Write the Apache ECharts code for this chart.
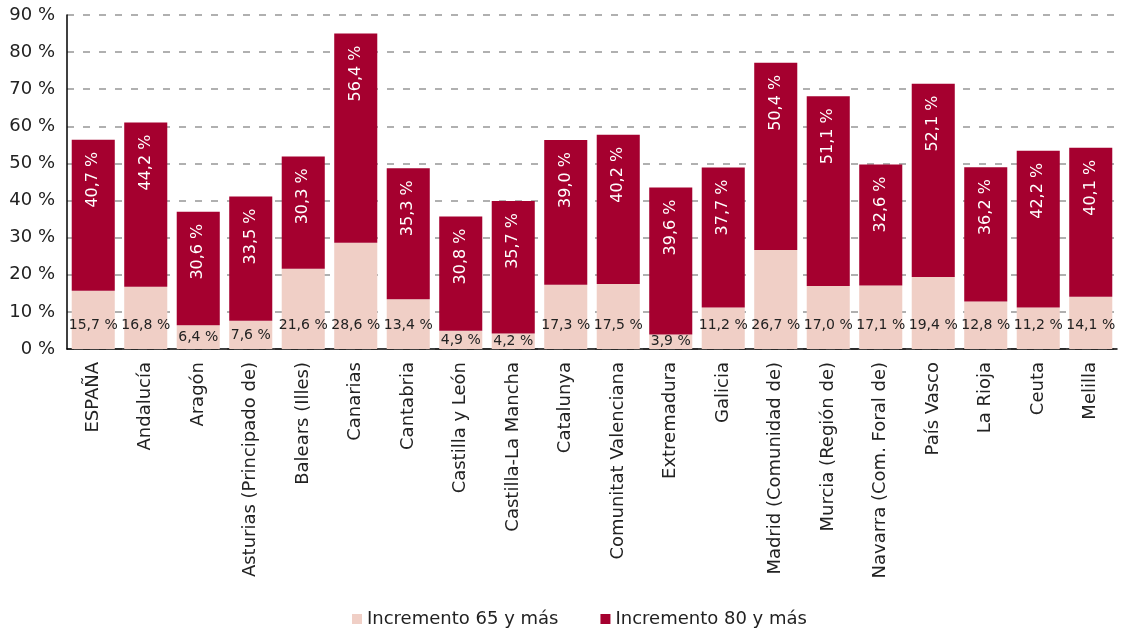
<!DOCTYPE html>
<html>
<head>
<meta charset="utf-8">
<script src="https://cdn.jsdelivr.net/npm/echarts@6/dist/echarts.min.js"></script>
<style>
    html, body { margin: 0; padding: 0; background: #fff; }
    #chart { width: 1121px; height: 629px; }
</style>
</head>
<body>
<div id="chart"></div>
<script>
// categorias (CCAA)
var categories = ['ESPAÑA', 'Andalucía', 'Aragón', 'Asturias (Principado de)', 'Balears (Illes)',
    'Canarias', 'Cantabria', 'Castilla y León', 'Castilla-La Mancha', 'Catalunya',
    'Comunitat Valenciana', 'Extremadura', 'Galicia', 'Madrid (Comunidad de)', 'Murcia (Región de)',
    'Navarra (Com. Foral de)', 'País Vasco', 'La Rioja', 'Ceuta', 'Melilla'];
var inc65 = [15.7, 16.8, 6.4, 7.6, 21.6, 28.6, 13.4, 4.9, 4.2, 17.3, 17.5, 3.9, 11.2, 26.7, 17.0, 17.1, 19.4, 12.8, 11.2, 14.1];
var inc80 = [40.7, 44.2, 30.6, 33.5, 30.3, 56.4, 35.3, 30.8, 35.7, 39.0, 40.2, 39.6, 37.7, 50.4, 51.1, 32.6, 52.1, 36.2, 42.2, 40.1];
var yTicks = [0, 10, 20, 30, 40, 50, 60, 70, 80, 90];

var FONT = 'DejaVu Sans';
var PINK = '#F0CFC6';
var RED = '#A5002F';

function pct(v) {
    return v.toFixed(1).replace('.', ',') + ' %';
}

var chart = echarts.init(document.getElementById('chart'));

// las barras bajas llevan la etiqueta centrada
var data65 = inc65.map(function (v) {
    if (v < 10) {
        return { value: v, label: { position: 'inside' } };
    }
    return v;
});

var option = {
    animation: false,
    textStyle: { fontFamily: FONT },
    grid: {
        left: 67,
        right: 4,
        top: 15,
        bottom: 280
    },
    legend: {
        top: 605,
        left: 347,
        icon: 'rect',
        itemWidth: 10,
        itemHeight: 10,
        itemGap: 42,
        textStyle: { fontFamily: FONT, fontSize: 18, color: '#222' },
        data: ['Incremento 65 y más', 'Incremento 80 y más']
    },
    xAxis: {
        type: 'category',
        data: categories,
        axisLine: { lineStyle: { color: '#000', width: 1.5 } },
        axisTick: { show: false },
        axisLabel: {
            rotate: 90,
            interval: 0,
            margin: 13,
            fontFamily: FONT,
            fontSize: 18,
            color: '#222'
        }
    },
    yAxis: {
        type: 'value',
        min: yTicks[0],
        max: yTicks[yTicks.length - 1],
        interval: 10,
        axisLine: { show: true, lineStyle: { color: '#000', width: 1.5 } },
        axisTick: { show: false },
        axisLabel: {
            margin: 12,
            fontFamily: FONT,
            fontSize: 18,
            color: '#222',
            formatter: function (v) { return v + ' %'; }
        },
        splitLine: {
            lineStyle: { color: '#b0b0b0', type: [7, 9], width: 2 }
        }
    },
    series: [
        {
            name: 'Incremento 65 y más',
            type: 'bar',
            stack: 'total',
            barCategoryGap: '18%',
            itemStyle: { color: PINK, borderColor: PINK, borderWidth: 0 },
            label: {
                show: true,
                position: 'insideBottom',
                distance: 17,
                fontFamily: FONT,
                fontSize: 14,
                color: '#222',
                formatter: function (p) { return pct(p.value); }
            },
            data: data65
        },
        {
            name: 'Incremento 80 y más',
            type: 'bar',
            stack: 'total',
            itemStyle: { color: RED, borderColor: RED, borderWidth: 0 },
            label: {
                show: true,
                position: 'insideTop',
                distance: 12,
                rotate: 90,
                align: 'right',
                verticalAlign: 'middle',
                fontFamily: FONT,
                fontSize: 16,
                color: '#fff',
                formatter: function (p) { return pct(p.value); }
            },
            data: inc80
        }
    ]
};

chart.setOption(option);
</script>
</body>
</html>
